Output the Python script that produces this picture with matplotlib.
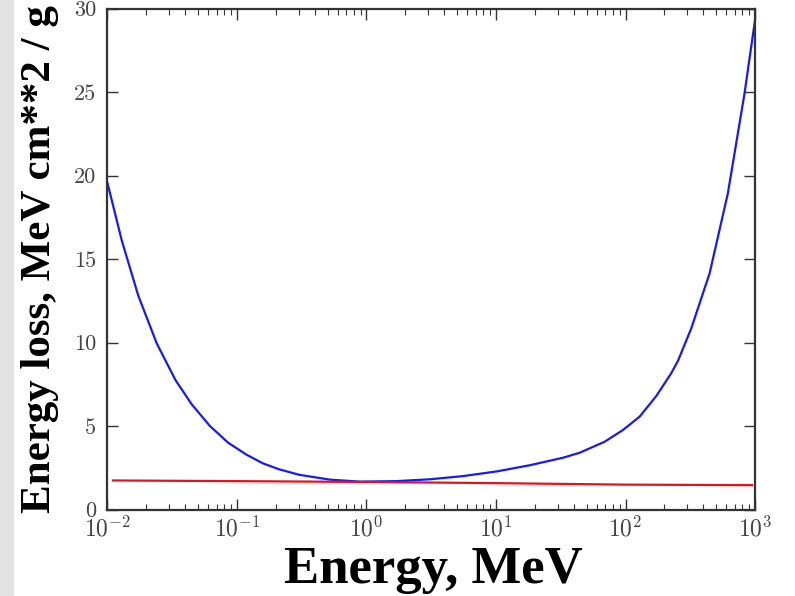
import matplotlib
matplotlib.use("Agg")
import matplotlib.pyplot as plt
from matplotlib.patches import Rectangle
from matplotlib.ticker import LogLocator, MultipleLocator, FuncFormatter
import numpy as np

# total energy loss vs. energy (MeV cm^2 / g)
energy_total = [0.01, 0.0129, 0.0173, 0.024, 0.0335, 0.0447, 0.0618, 0.0855,
                0.1186, 0.158, 0.209, 0.302, 0.521, 0.89, 1.70, 3.08, 5.56,
                10.1, 18.2, 32.9, 44.3, 69.0, 95.5, 128.5, 173.0, 225.0,
                254.0, 322.0, 446.0, 617.0, 830.0, 1000.0]
loss_total = [19.55, 16.1, 12.8, 9.95, 7.75, 6.3, 5.0, 4.0,
              3.28, 2.77, 2.42, 2.08, 1.79, 1.67, 1.70, 1.81, 2.0,
              2.28, 2.65, 3.1, 3.4, 4.06, 4.76, 5.56, 6.8, 8.15,
              8.9, 10.85, 14.14, 18.93, 24.92, 29.3]

# ionisation-only loss
energy_ion = [0.011, 0.1, 1.0, 10.0, 100.0, 950.0]
loss_ion = [1.74, 1.70, 1.65, 1.58, 1.49, 1.46]

plt.rcParams['mathtext.fontset'] = 'cm'

fig = plt.figure(figsize=(7.95, 5.96), dpi=100)
fig.patches.append(Rectangle((0, 0), 13 / 795, 1, transform=fig.transFigure,
                             color='#e3e3e3', zorder=-1))
ax = fig.add_axes([0.1352, 0.1451, 0.8145, 0.8406])

ax.plot(energy_total, loss_total, color='#1a1aee', lw=1.6)
ax.plot(energy_ion, loss_ion, color='#e8101a', lw=1.6)

ax.set_xscale('log')
ax.set_xlim(1e-2, 1e3)
ax.set_ylim(0, 30)
ax.yaxis.set_major_locator(MultipleLocator(5))
ax.xaxis.set_major_locator(LogLocator(base=10))
ax.xaxis.set_minor_locator(LogLocator(base=10, subs=range(2, 10)))
ax.xaxis.set_major_formatter(
    FuncFormatter(lambda v, p: r'$10^{%d}$' % int(round(np.log10(v)))))
ax.yaxis.set_major_formatter(FuncFormatter(lambda v, p: '%d' % v))

for s in ax.spines.values():
    s.set_color('#333333')
    s.set_linewidth(1.6)
ax.tick_params(which='both', direction='in', top=True, right=True,
               color='#333333', labelcolor='#444444')
ax.tick_params(which='major', length=8, width=1.0, pad=5)
ax.tick_params(axis='x', which='major', labelsize=17)
ax.tick_params(axis='y', which='major', labelsize=16, pad=8)
ax.tick_params(which='minor', length=4, width=0.8)
for lab in ax.get_yticklabels():
    lab.set_fontfamily('cmr10')

fig.text(0.050, 0.565, 'Energy loss, MeV cm**2 / g', rotation=90,
         ha='center', va='center', fontsize=31, fontweight='bold',
         family='Liberation Serif')
fig.text(0.545, 0.043, 'Energy, MeV', ha='center', va='center',
         fontsize=38, fontweight='bold', family='Liberation Serif')

fig.savefig('out.png', dpi=100)
